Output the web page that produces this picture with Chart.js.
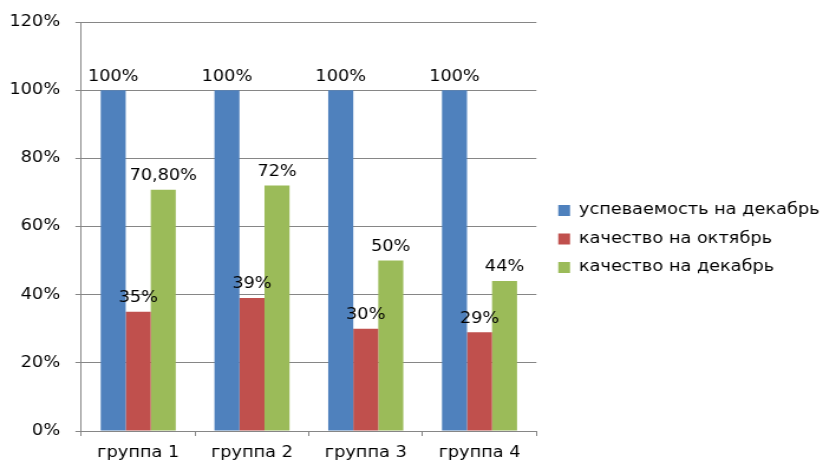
<!DOCTYPE html>
<html>
<head>
<meta charset="utf-8">
<script src="https://cdn.jsdelivr.net/npm/chart.js@4/dist/chart.umd.min.js"></script>
<style>
  html, body { margin: 0; padding: 0; background: #fff; overflow: hidden; }
  /* The chart is laid out 697px wide and widened to the full 823px page */
  #wrap { width: 697px; height: 461px; position: relative;
          transform: scaleX(1.1808); transform-origin: 0 0; }
</style>
</head>
<body>
<div id="wrap"><canvas id="c"></canvas></div>
<script>
// Groups along the x axis
const groups = ['группа 1', 'группа 2', 'группа 3', 'группа 4'];

// Series values, in percent
const progressDec = [100, 100, 100, 100];
const qualityOct = [35, 39, 30, 29];
const qualityDec = [70.8, 72, 50, 44];

// Value labels printed above the bars
const progressDecLabels = ['100%', '100%', '100%', '100%'];
const qualityOctLabels = ['35%', '39%', '30%', '29%'];
const qualityDecLabels = ['70,80%', '72%', '50%', '44%'];

// Series names
const seriesNames = ['успеваемость на декабрь', 'качество на октябрь', 'качество на декабрь'];

const FONT = 'DejaVu Sans';

// Draws each dataset's value label centred above its bar
const barLabels = {
  id: 'barLabels',
  afterDatasetsDraw(chart) {
    const ctx = chart.ctx;
    ctx.save();
    ctx.font = '15px "' + FONT + '"';
    ctx.fillStyle = '#000';
    ctx.textAlign = 'center';
    ctx.textBaseline = 'bottom';
    chart.data.datasets.forEach((ds, i) => {
      const meta = chart.getDatasetMeta(i);
      meta.data.forEach((bar, j) => {
        ctx.fillText(ds.valueLabels[j], bar.x, bar.y - 6);
      });
    });
    ctx.restore();
  }
};

// Nudges the legend block a little away from the plot
const legendNudge = {
  id: 'legendNudge',
  afterLayout(chart) {
    const lg = chart.legend;
    if (!lg) return;
    lg.left += 5; lg.right += 5;
  }
};

new Chart(document.getElementById('c'), {
  type: 'bar',
  data: {
    labels: groups,
    datasets: [
      { label: seriesNames[0], data: progressDec, valueLabels: progressDecLabels, backgroundColor: '#4F81BD' },
      { label: seriesNames[1], data: qualityOct, valueLabels: qualityOctLabels, backgroundColor: '#C0504D' },
      { label: seriesNames[2], data: qualityDec, valueLabels: qualityDecLabels, backgroundColor: '#9BBB59' }
    ]
  },
  options: {
    responsive: true,
    maintainAspectRatio: false,
    animation: false,
    layout: { padding: { left: -5, top: 8, right: -2, bottom: -9 } },
    datasets: { bar: { barPercentage: 1, categoryPercentage: 0.66 } },
    plugins: {
      legend: {
        position: 'right',
        maxWidth: 320,
        labels: {
          boxWidth: 10, boxHeight: 11, padding: 13.5,
          color: '#000',
          font: { family: FONT, size: 15 }
        }
      },
      tooltip: { enabled: false }
    },
    scales: {
      x: {
        grid: { offset: true, drawOnChartArea: false, drawTicks: true, tickLength: 5, color: '#868686' },
        border: { color: '#868686' },
        ticks: { color: '#000', padding: 8, font: { family: FONT, size: 15 } }
      },
      y: {
        min: 0, max: 120,
        ticks: { stepSize: 20, color: '#000', padding: 13, font: { family: FONT, size: 15 },
                 callback: v => v + '%' },
        grid: { color: '#868686', tickLength: 5 },
        border: { color: '#868686' }
      }
    }
  },
  plugins: [barLabels, legendNudge]
});
</script>
</body>
</html>
